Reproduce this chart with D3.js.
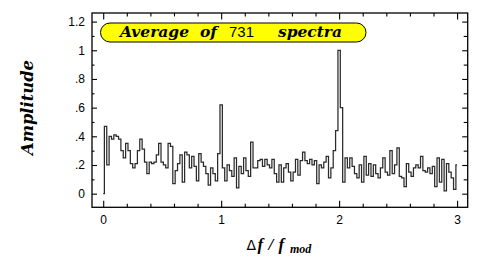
<!DOCTYPE html>
<html>
<head>
<meta charset="utf-8">
<style>
  body { margin: 0; background: #fff; }
  svg { display: block; }
</style>
</head>
<body>
<script src="https://d3js.org/d3.v7.min.js"></script>
<script>
// histogram of the averaged spectrum, one value per bin (bin width 0.02)
var binWidth = 0.02;
var amplitude = [
  0.00, 0.47, 0.20, 0.40, 0.38, 0.41, 0.40, 0.38, 0.30, 0.25,
  0.35, 0.30, 0.21, 0.18, 0.21, 0.30, 0.38, 0.31, 0.22, 0.14,
  0.22, 0.21, 0.22, 0.27, 0.35, 0.22, 0.20, 0.18, 0.35, 0.33,
  0.07, 0.16, 0.21, 0.27, 0.08, 0.29, 0.27, 0.18, 0.26, 0.19,
  0.09, 0.28, 0.22, 0.19, 0.14, 0.06, 0.18, 0.14, 0.09, 0.28,
  0.62, 0.18, 0.09, 0.20, 0.16, 0.12, 0.25, 0.04, 0.19, 0.14,
  0.25, 0.16, 0.12, 0.36, 0.18, 0.18, 0.23, 0.24, 0.19, 0.24,
  0.20, 0.18, 0.24, 0.14, 0.08, 0.20, 0.08, 0.18, 0.21, 0.15,
  0.09, 0.15, 0.24, 0.13, 0.23, 0.29, 0.23, 0.21, 0.24, 0.20,
  0.23, 0.07, 0.20, 0.18, 0.22, 0.26, 0.11, 0.18, 0.30, 0.44,
  1.00, 0.60, 0.08, 0.25, 0.18, 0.25, 0.19, 0.14, 0.11, 0.20,
  0.08, 0.26, 0.13, 0.21, 0.12, 0.20, 0.14, 0.11, 0.18, 0.25,
  0.15, 0.13, 0.30, 0.14, 0.20, 0.32, 0.12, 0.11, 0.05, 0.21,
  0.15, 0.12, 0.18, 0.20, 0.18, 0.26, 0.16, 0.15, 0.18, 0.14,
  0.19, 0.05, 0.25, 0.08, 0.24, 0.02, 0.21, 0.15, 0.11, 0.03,
  0.20
];

var xTicks = [0, 1, 2, 3];
var xTickLabels = ["0", "1", "2", "3"];
var xMinor = [0.2, 0.4, 0.6, 0.8, 1.2, 1.4, 1.6, 1.8, 2.2, 2.4, 2.6, 2.8];
var yTicks = [0, 0.2, 0.4, 0.6, 0.8, 1, 1.2];
var yTickLabels = ["0", ".2", ".4", ".6", ".8", "1", "1.2"];
var yMinor = [0.1, 0.3, 0.5, 0.7, 0.9, 1.1];

var titleWords = ["Average", "of", "731", "spectra"];

var W = 491, H = 273;
var svg = d3.select("body").append("svg")
    .attr("width", W)
    .attr("height", H);

var pLeft = 92, pRight = 467.7, pTop = 13, pBottom = 207.3;

var x = d3.scaleLinear().domain([-0.095, 3.09]).range([pLeft, pRight]);
var y = d3.scaleLinear().domain([-0.095, 1.26]).range([pBottom, pTop]);

var data = amplitude.map(function(a, i) { return { f: i * binWidth, a: a }; });

// the histogram
var line = d3.line()
    .curve(d3.curveStep)
    .x(function(d) { return x(d.f); })
    .y(function(d) { return y(d.a); });

svg.append("path")
    .datum(data)
    .attr("fill", "none")
    .attr("stroke", "#2a2a2a")
    .attr("stroke-width", 1.25)
    .attr("d", line);

// axes, ticks pointing inward
var tickFont = "'Liberation Sans', Arial, sans-serif";

function styleAxis(g) {
  g.select(".domain").remove();
  g.selectAll(".tick line").attr("stroke", "#000").attr("stroke-width", 1.1);
  g.selectAll("text").attr("font-family", tickFont).attr("font-size", 12).attr("fill", "#000");
}

svg.append("g")
    .attr("transform", "translate(0," + pBottom + ")")
    .call(d3.axisBottom(x).tickValues(xTicks).tickSize(-6.5).tickPadding(8)
      .tickFormat(function(d, i) { return xTickLabels[i]; }))
    .call(styleAxis);
svg.append("g")
    .attr("transform", "translate(0," + pBottom + ")")
    .call(d3.axisBottom(x).tickValues(xMinor).tickSize(-3.5).tickFormat(""))
    .call(styleAxis);
svg.append("g")
    .attr("transform", "translate(0," + pTop + ")")
    .call(d3.axisTop(x).tickValues(xTicks).tickSize(-6.5).tickFormat(""))
    .call(styleAxis);
svg.append("g")
    .attr("transform", "translate(0," + pTop + ")")
    .call(d3.axisTop(x).tickValues(xMinor).tickSize(-3.5).tickFormat(""))
    .call(styleAxis);

svg.append("g")
    .attr("transform", "translate(" + pLeft + ",0)")
    .call(d3.axisLeft(y).tickValues(yTicks).tickSize(-5).tickPadding(7)
      .tickFormat(function(d, i) { return yTickLabels[i]; }))
    .call(styleAxis);
svg.append("g")
    .attr("transform", "translate(" + pLeft + ",0)")
    .call(d3.axisLeft(y).tickValues(yMinor).tickSize(-2.5).tickFormat(""))
    .call(styleAxis);
svg.append("g")
    .attr("transform", "translate(" + pRight + ",0)")
    .call(d3.axisRight(y).tickValues(yTicks).tickSize(-5.5).tickFormat(""))
    .call(styleAxis);
svg.append("g")
    .attr("transform", "translate(" + pRight + ",0)")
    .call(d3.axisRight(y).tickValues(yMinor).tickSize(-4).tickFormat(""))
    .call(styleAxis);

// frame
svg.append("rect")
    .attr("x", pLeft).attr("y", pTop)
    .attr("width", pRight - pLeft).attr("height", pBottom - pTop)
    .attr("fill", "none")
    .attr("stroke", "#000")
    .attr("stroke-width", 1.3);

// title pill
var serifBI = "'DejaVu Serif', serif";
svg.append("rect")
    .attr("x", 100.5).attr("y", 23)
    .attr("width", 265.5).attr("height", 19)
    .attr("rx", 9.5).attr("ry", 9.5)
    .attr("fill", "#ffff00")
    .attr("stroke", "#000")
    .attr("stroke-width", 1);

var wordPos = [[120, 69], [200, 17], [229, 25], [278, 64]];
titleWords.forEach(function(w, i) {
  var t = svg.append("text")
      .attr("x", wordPos[i][0]).attr("y", 37.3)
      .attr("textLength", wordPos[i][1])
      .attr("lengthAdjust", "spacingAndGlyphs")
      .attr("font-size", 14.5)
      .text(w);
  if (w === "731") {
    t.attr("font-family", tickFont);
  } else {
    t.attr("font-family", serifBI).attr("font-weight", "bold").attr("font-style", "italic");
  }
});

// axis titles
svg.append("text")
    .attr("transform", "translate(33,107.5) rotate(-90)")
    .attr("text-anchor", "middle")
    .attr("font-family", serifBI)
    .attr("font-weight", "bold")
    .attr("font-style", "italic")
    .attr("font-size", 16)
    .attr("textLength", 95)
    .attr("lengthAdjust", "spacingAndGlyphs")
    .text("Amplitude");

var mathFont = "'Liberation Serif', 'Times New Roman', serif";
var xl = svg.append("text").attr("y", 249.5);
xl.append("tspan")
    .attr("x", 246.5)
    .attr("font-family", "'DejaVu Sans', sans-serif")
    .attr("font-size", 14)
    .text("\u0394");
[["f", 257.5], ["/", 268.5], ["f", 278.5]].forEach(function(p) {
  xl.append("tspan")
      .attr("x", p[1])
      .attr("font-family", mathFont)
      .attr("font-weight", "bold")
      .attr("font-style", "italic")
      .attr("font-size", 17)
      .text(p[0]);
});
xl.append("tspan")
    .attr("x", 290)
    .attr("dy", 3.5)
    .attr("font-family", mathFont)
    .attr("font-weight", "bold")
    .attr("font-style", "italic")
    .attr("font-size", 12)
    .text("mod");
</script>
</body>
</html>
